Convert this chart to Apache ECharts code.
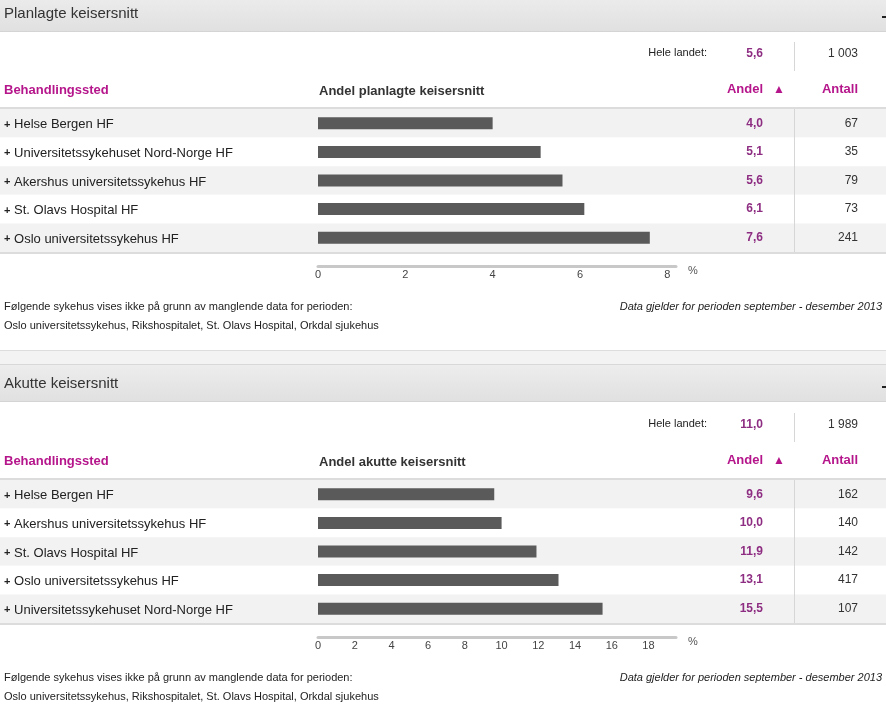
<!DOCTYPE html>
<html>
<head>
<meta charset="utf-8">
<script src="https://cdn.jsdelivr.net/npm/echarts@6/dist/echarts.min.js"></script>
<style>
  html, body { margin: 0; padding: 0; background: #fff; }
  #chart { width: 886px; height: 705px; }
</style>
</head>
<body>
<div id="chart"></div>
<script>
// Data: planlagte keisersnitt
var planSteder = ['Helse Bergen HF', 'Universitetssykehuset Nord-Norge HF', 'Akershus universitetssykehus HF', 'St. Olavs Hospital HF', 'Oslo universitetssykehus HF'];
var planAndel = [4.0, 5.1, 5.6, 6.1, 7.6];
var planAntall = [67, 35, 79, 73, 241];
var planHeleLandet = [5.6, 1003];

// Data: akutte keisersnitt
var akuttSteder = ['Helse Bergen HF', 'Akershus universitetssykehus HF', 'St. Olavs Hospital HF', 'Oslo universitetssykehus HF', 'Universitetssykehuset Nord-Norge HF'];
var akuttAndel = [9.6, 10.0, 11.9, 13.1, 15.5];
var akuttAntall = [162, 140, 142, 417, 107];
var akuttHeleLandet = [11.0, 1989];

var titles = ['Planlagte keisersnitt', 'Akutte keisersnitt'];
var barTitles = ['Andel planlagte keisersnitt', 'Andel akutte keisersnitt'];
var axisMax = [8.2, 19.5];
var footLine1 = 'Følgende sykehus vises ikke på grunn av manglende data for perioden:';
var footLine2 = 'Oslo universitetssykehus, Rikshospitalet, St. Olavs Hospital, Orkdal sjukehus';
var periodText = 'Data gjelder for perioden september - desember 2013';

var FONT = '"Liberation Sans", Arial, sans-serif';
var MAGENTA = '#b5158b';
var PURPLE = '#8e2e82';
var TEXT = '#333';

function fmtAndel(v) { return v.toFixed(1).replace('.', ','); }
function fmtAntall(v) { return String(v).replace(/\B(?=(\d{3})+(?!\d))/g, ' '); }

var chart = echarts.init(document.getElementById('chart'));

var grids = [], xAxes = [], yAxes = [], series = [], graphics = [];

function addSection(k, off, steder, andel, antall, hele) {
    var top = 109 + off;
    var gBg = k * 2, gBar = k * 2 + 1;

    // full-width grid: row stripes and table text
    grids.push({ left: 0, right: 0, top: top, height: 143 });
    xAxes.push({ type: 'value', gridIndex: gBg, show: false, min: 0, max: 1 });
    yAxes.push({
        type: 'category', gridIndex: gBg, data: steder, inverse: true,
        axisLine: { show: false }, axisTick: { show: false },
        splitArea: { show: true, areaStyle: { color: ['#f2f2f2', '#ffffff'] } },
        axisLabel: {
            inside: true, margin: 4, color: '#222', fontFamily: FONT, fontSize: 13, padding: [3, 0, 0, 0],
            formatter: function (v) { return '{p|+} ' + v; },
            rich: { p: { fontSize: 11, fontWeight: 'bold', color: '#222', fontFamily: FONT } }
        }
    });
    yAxes.push({
        type: 'category', gridIndex: gBg, data: andel.map(fmtAndel), inverse: true, position: 'right',
        axisLine: { show: false }, axisTick: { show: false },
        axisLabel: { inside: true, margin: 123, color: PURPLE, fontWeight: 'bold', fontFamily: FONT, fontSize: 12, padding: [3, 0, 0, 0] }
    });
    yAxes.push({
        type: 'category', gridIndex: gBg, data: antall.map(fmtAntall), inverse: true, position: 'right',
        axisLine: { show: false }, axisTick: { show: false },
        axisLabel: { inside: true, margin: 28, color: TEXT, fontFamily: FONT, fontSize: 12, padding: [3, 0, 0, 0] }
    });

    // bar grid
    grids.push({ left: 318, width: 358, top: top, height: 143 });
    xAxes.push({
        type: 'value', gridIndex: gBar, min: 0, max: axisMax[k], interval: 2, offset: 14,
        axisLine: { show: true, lineStyle: { color: '#c8c8c8', width: 3 } },
        axisTick: { show: false }, splitLine: { show: false },
        axisLabel: { margin: 3, color: '#444', fontFamily: FONT, fontSize: 11, showMaxLabel: false }
    });
    var yBar = yAxes.length;
    yAxes.push({
        type: 'category', gridIndex: gBar, data: steder, inverse: true, show: false
    });
    series.push({
        type: 'bar', xAxisIndex: gBar, yAxisIndex: yBar, data: andel, barWidth: 12,
        itemStyle: { color: '#5a5a5a' }, silent: true
    });

    // section header band
    var hTop = k === 0 ? -6 : 364;
    if (k === 1) {
        graphics.push({ type: 'rect', shape: { x: 0, y: 350, width: 886, height: 14 }, style: { fill: '#f3f3f3' } });
        graphics.push({ type: 'line', shape: { x1: 0, y1: 350.5, x2: 886, y2: 350.5 }, style: { stroke: '#dddddd', lineWidth: 1 } });
    }
    graphics.push({
        type: 'rect', shape: { x: 0, y: hTop, width: 886, height: 38 },
        style: { fill: new echarts.graphic.LinearGradient(0, 0, 0, 1, [
            { offset: 0, color: '#ededed' }, { offset: 1, color: '#e0e0e0' }]) }
    });
    graphics.push({ type: 'line', shape: { x1: 0, y1: hTop + 0.5, x2: 886, y2: hTop + 0.5 }, style: { stroke: '#d8d8d8', lineWidth: 1 } });
    graphics.push({ type: 'line', shape: { x1: 0, y1: hTop + 37.5, x2: 886, y2: hTop + 37.5 }, style: { stroke: '#d4d4d4', lineWidth: 1 } });
    graphics.push({ type: 'text', x: 4, y: hTop + 20, style: { text: titles[k], fill: TEXT, font: '15px ' + FONT, textVerticalAlign: 'middle' } });
    graphics.push({ type: 'rect', shape: { x: 882, y: hTop + 22, width: 4, height: 2 }, style: { fill: '#222' } });

    // hele landet
    graphics.push({ type: 'text', x: 707, y: 53 + off, style: { text: 'Hele landet:', fill: '#222', font: '11px ' + FONT, textAlign: 'right', textVerticalAlign: 'middle' } });
    graphics.push({ type: 'text', x: 763, y: 54 + off, style: { text: fmtAndel(hele[0]), fill: PURPLE, font: 'bold 12px ' + FONT, textAlign: 'right', textVerticalAlign: 'middle' } });
    graphics.push({ type: 'text', x: 858, y: 54 + off, style: { text: fmtAntall(hele[1]), fill: TEXT, font: '12px ' + FONT, textAlign: 'right', textVerticalAlign: 'middle' } });
    graphics.push({ type: 'line', shape: { x1: 794.5, y1: 42 + off, x2: 794.5, y2: 71 + off }, style: { stroke: '#d6d6d6', lineWidth: 1 } });

    // column headers
    graphics.push({ type: 'text', x: 4, y: 90 + off, style: { text: 'Behandlingssted', fill: MAGENTA, font: 'bold 13px ' + FONT, textVerticalAlign: 'middle' } });
    graphics.push({ type: 'text', x: 319, y: 91 + off, style: { text: barTitles[k], fill: TEXT, font: 'bold 13px ' + FONT, textVerticalAlign: 'middle' } });
    graphics.push({ type: 'text', x: 763, y: 89 + off, style: { text: 'Andel', fill: MAGENTA, font: 'bold 13px ' + FONT, textAlign: 'right', textVerticalAlign: 'middle' } });
    graphics.push({ type: 'text', x: 779, y: 90 + off, style: { text: '▲', fill: MAGENTA, font: '12px ' + FONT, textAlign: 'center', textVerticalAlign: 'middle' } });
    graphics.push({ type: 'text', x: 858, y: 89 + off, style: { text: 'Antall', fill: MAGENTA, font: 'bold 13px ' + FONT, textAlign: 'right', textVerticalAlign: 'middle' } });

    // table borders
    graphics.push({ type: 'line', z: 10, shape: { x1: 0, y1: 108 + off, x2: 886, y2: 108 + off }, style: { stroke: '#dcdcdc', lineWidth: 2 } });
    graphics.push({ type: 'line', z: 10, shape: { x1: 0, y1: 253 + off, x2: 886, y2: 253 + off }, style: { stroke: '#dcdcdc', lineWidth: 2 } });
    graphics.push({ type: 'line', z: 10, shape: { x1: 794.5, y1: 109 + off, x2: 794.5, y2: 252 + off }, style: { stroke: '#d6d6d6', lineWidth: 1 } });

    // unit + footnotes
    graphics.push({ type: 'text', x: 693, y: 271 + off, style: { text: '%', fill: '#555', font: '11px ' + FONT, textAlign: 'center', textVerticalAlign: 'middle' } });
    graphics.push({ type: 'text', x: 4, y: 307 + off, style: { text: footLine1, fill: '#222', font: '11px ' + FONT, textVerticalAlign: 'middle' } });
    graphics.push({ type: 'text', x: 4, y: 326 + off, style: { text: footLine2, fill: '#222', font: '11px ' + FONT, textVerticalAlign: 'middle' } });
    graphics.push({ type: 'text', x: 882, y: 307 + off, style: { text: periodText, fill: '#222', font: 'italic 11px ' + FONT, textAlign: 'right', textVerticalAlign: 'middle' } });
}

addSection(0, 0, planSteder, planAndel, planAntall, planHeleLandet);
addSection(1, 371, akuttSteder, akuttAndel, akuttAntall, akuttHeleLandet);

chart.setOption({
    animation: false,
    grid: grids,
    xAxis: xAxes,
    yAxis: yAxes,
    series: series,
    graphic: { elements: graphics }
});
</script>
</body>
</html>
